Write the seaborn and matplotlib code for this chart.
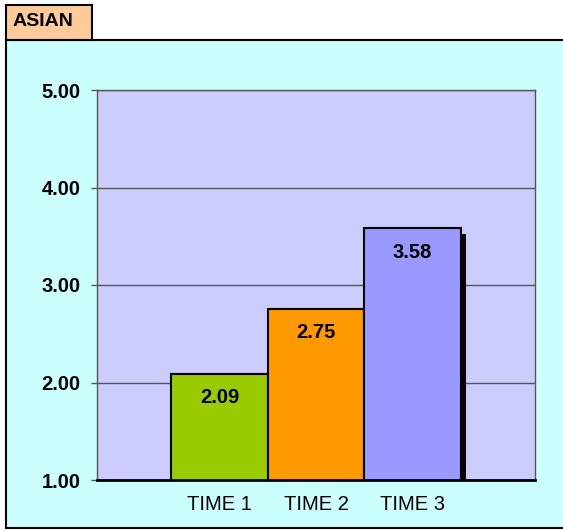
import pandas as pd
import matplotlib
matplotlib.use("Agg")
import matplotlib.pyplot as plt
import matplotlib.patheffects as pe
from matplotlib.patches import Rectangle
import seaborn as sns

# Data
categories = ['TIME 1', 'TIME 2', 'TIME 3']
scores = [2.09, 2.75, 3.58]
bar_colors = ['#99CC00', '#FF9900', '#9999FF']
y_ticks = [1, 2, 3, 4, 5]
panel_title = 'ASIAN'

data = pd.DataFrame({'time': categories, 'score': scores})

sns.set_style("white")
plt.rcParams['font.family'] = ['Liberation Sans', 'DejaVu Sans']
plt.rcParams['text.color'] = 'black'
plt.rcParams['xtick.color'] = 'black'
plt.rcParams['ytick.color'] = 'black'

W, H = 563, 531
fig = plt.figure(figsize=(W / 100, H / 100), dpi=100)
fig.patch.set_facecolor('white')

# Outer cyan frame and the little title tab
fig.patches.append(Rectangle((6 / W, 3 / H), 1.0, (H - 40 - 3) / H, transform=fig.transFigure,
                             facecolor='#CCFFFF', edgecolor='black', linewidth=1.5, zorder=-2))
fig.patches.append(Rectangle((6 / W, (H - 40) / H), 86 / W, 35 / H, transform=fig.transFigure,
                             facecolor='#FFCC99', edgecolor='black', linewidth=1.5, zorder=-2))
fig.text(13 / W, (H - 22) / H, panel_title, fontsize=14, fontweight='bold', va='center', ha='left')

ax = fig.add_axes([97 / W, (H - 480) / H, 438 / W, 390 / H])
ax.set_zorder(1)
ax.set_facecolor('#CCCCFF')

sns.barplot(data=data, x='time', y='score', hue='time', palette=bar_colors, legend=False,
            width=1.0, edgecolor='black', linewidth=1.5, saturation=1, ax=ax, zorder=3)

# drop shadow on the bars
for bar in ax.patches:
    bar.set_path_effects([pe.SimplePatchShadow(offset=(4, -4), shadow_rgbFace='black', alpha=1.0),
                          pe.Normal()])

# value labels inside the top of each bar
for i, v in enumerate(scores):
    ax.annotate(f'{v:.2f}', (i, v), xytext=(0, -17), textcoords='offset points',
                ha='center', va='center', fontsize=14.5, fontweight='bold', zorder=5)

ax.set_xlim(-1.27, 3.27)
ax.set_ylim(1, 5)
ax.set_yticks(y_ticks)
ax.set_yticklabels([f'{t:.2f}' for t in y_ticks], fontsize=14.5, fontweight='bold')
ax.set_xticks(range(len(categories)))
ax.set_xticklabels(categories, fontsize=14.5)
ax.tick_params(axis='y', length=4, width=1, color='#555555', labelcolor='black', pad=8, left=True)
ax.tick_params(axis='x', length=0, pad=11, labelcolor='black')
ax.set_xlabel('')
ax.set_ylabel('')

ax.yaxis.grid(True, color='#555555', linewidth=1)
ax.set_axisbelow(True)
for side in ['left', 'right', 'top']:
    ax.spines[side].set_color('#555555')
    ax.spines[side].set_linewidth(1)
ax.spines['bottom'].set_color('black')
ax.spines['bottom'].set_linewidth(2)
ax.spines['bottom'].set_zorder(6)

plt.savefig('out.png', dpi=100)
